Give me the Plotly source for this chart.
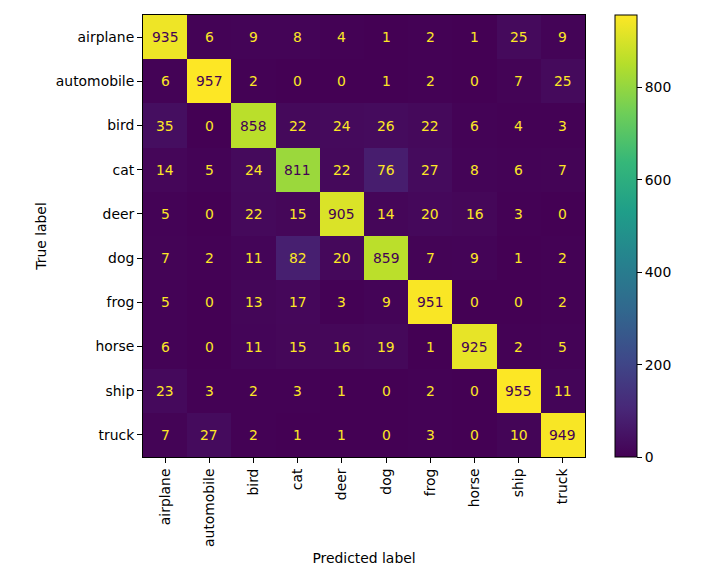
import plotly.graph_objects as go

classes = ["airplane", "automobile", "bird", "cat", "deer", "dog", "frog", "horse", "ship", "truck"]
confusion = [
    [935, 6, 9, 8, 4, 1, 2, 1, 25, 9],
    [6, 957, 2, 0, 0, 1, 2, 0, 7, 25],
    [35, 0, 858, 22, 24, 26, 22, 6, 4, 3],
    [14, 5, 24, 811, 22, 76, 27, 8, 6, 7],
    [5, 0, 22, 15, 905, 14, 20, 16, 3, 0],
    [7, 2, 11, 82, 20, 859, 7, 9, 1, 2],
    [5, 0, 13, 17, 3, 9, 951, 0, 0, 2],
    [6, 0, 11, 15, 16, 19, 1, 925, 2, 5],
    [23, 3, 2, 3, 1, 0, 2, 0, 955, 11],
    [7, 27, 2, 1, 1, 0, 3, 0, 10, 949],
]
colorbar_ticks = [0, 200, 400, 600, 800]

FONT = "DejaVu Sans"
FS = 13.9

vmax = max(max(r) for r in confusion)
vmin = min(min(r) for r in confusion)
thresh = (vmax + vmin) / 2

fig = go.Figure(go.Heatmap(
    z=confusion, x=classes, y=classes,
    colorscale="Viridis", zmin=vmin, zmax=vmax,
    colorbar=dict(
        x=1.068, xanchor="left", xref="paper",
        y=1, yanchor="top", len=1, lenmode="fraction",
        xpad=0, ypad=0,
        thickness=22, thicknessmode="pixels",
        outlinecolor="black", outlinewidth=1,
        tickvals=colorbar_ticks, ticks="outside", ticklen=5, tickcolor="black",
        tickfont=dict(family=FONT, size=FS, color="black"),
    ),
    hoverongaps=False,
))

annotations = []
for i, row in enumerate(confusion):
    for j, v in enumerate(row):
        annotations.append(dict(
            x=classes[j], y=classes[i], text=str(v), showarrow=False,
            font=dict(family=FONT, size=FS,
                      color="#440154" if v > thresh else "#fde725"),
        ))

axis_common = dict(
    showline=True, linecolor="black", linewidth=1, mirror=True,
    ticks="outside", ticklen=5, tickcolor="black", showgrid=False, zeroline=False,
    automargin=False,
    tickfont=dict(family=FONT, size=FS, color="black"),
)

fig.update_layout(
    width=722, height=581,
    margin=dict(l=135, r=145, t=7, b=132, autoexpand=False),
    paper_bgcolor="white", plot_bgcolor="white",
    annotations=annotations,
    xaxis=dict(**axis_common, tickangle=-90,
               title=dict(text="Predicted label", standoff=7,
                          font=dict(family=FONT, size=FS, color="black"))),
    yaxis=dict(**axis_common, autorange="reversed",
               title=dict(text="True label", standoff=5,
                          font=dict(family=FONT, size=FS, color="black"))),
)

fig.write_html("out.html")
